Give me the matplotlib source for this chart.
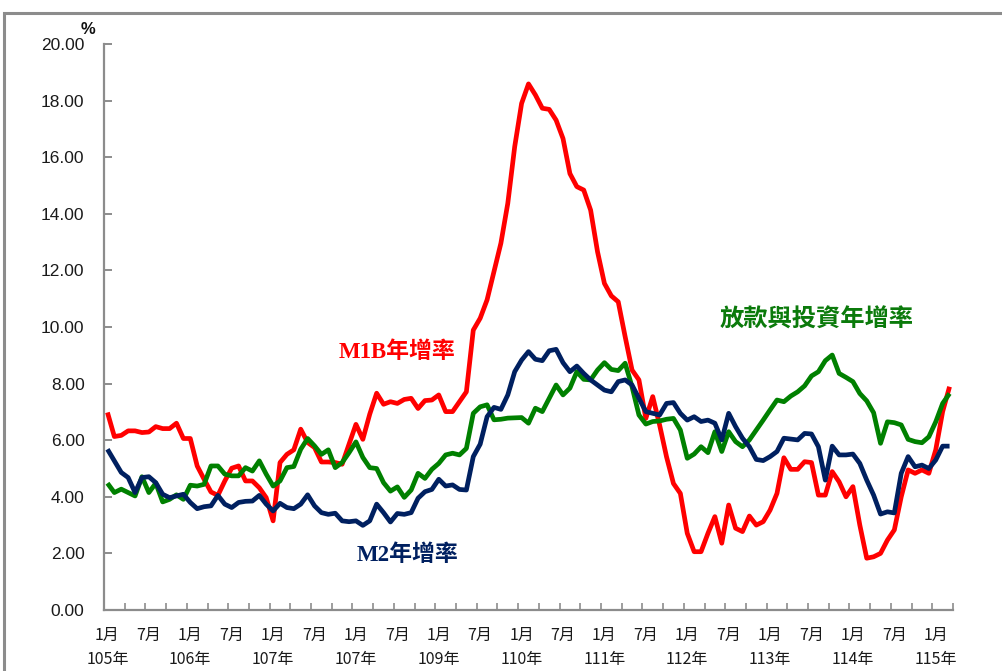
import matplotlib
matplotlib.use("Agg")
import matplotlib.pyplot as plt
from matplotlib.patches import Rectangle
import numpy as np

# ---- data (monthly, 105年1月 .. 115年3月) ----
m1b = [6.98, 6.13, 6.17, 6.33, 6.33, 6.27, 6.29, 6.48, 6.41, 6.41, 6.60, 6.06,
       6.06, 5.09, 4.62, 4.17, 4.05, 4.56, 5.01, 5.09, 4.56, 4.56, 4.32, 3.97,
       3.15, 5.21, 5.50, 5.66, 6.39, 5.92, 5.74, 5.23, 5.23, 5.21, 5.15, 5.86,
       6.56, 6.03, 6.92, 7.66, 7.27, 7.36, 7.30, 7.44, 7.48, 7.12, 7.40, 7.42,
       7.60, 7.01, 7.01, 7.36, 7.71, 9.89, 10.31, 10.96, 11.96, 12.96, 14.37, 16.37,
       17.90, 18.59, 18.20, 17.73, 17.69, 17.31, 16.66, 15.42, 14.96, 14.84, 14.13, 12.66,
       11.54, 11.10, 10.89, 9.66, 8.48, 8.13, 6.77, 7.54, 6.53, 5.41, 4.47, 4.12,
       2.71, 2.06, 2.06, 2.71, 3.30, 2.36, 3.71, 2.89, 2.77, 3.32, 3.00, 3.12,
       3.53, 4.12, 5.38, 4.97, 4.97, 5.24, 5.21, 4.06, 4.06, 4.89, 4.53, 4.00,
       4.36, 3.00, 1.83, 1.88, 2.00, 2.47, 2.83, 4.00, 4.95, 4.83, 4.95, 4.83,
       5.66, 7.01, 7.89]

m2 = [5.68, 5.27, 4.86, 4.68, 4.15, 4.68, 4.71, 4.50, 4.09, 3.97, 4.03, 4.09,
      3.80, 3.58, 3.65, 3.68, 4.05, 3.74, 3.62, 3.80, 3.84, 3.85, 4.05, 3.74,
      3.50, 3.77, 3.62, 3.58, 3.74, 4.07, 3.68, 3.44, 3.38, 3.42, 3.15, 3.12,
      3.15, 2.99, 3.15, 3.74, 3.44, 3.11, 3.41, 3.38, 3.44, 3.95, 4.18, 4.26,
      4.62, 4.38, 4.42, 4.26, 4.24, 5.42, 5.86, 6.83, 7.16, 7.09, 7.60, 8.42,
      8.83, 9.13, 8.86, 8.81, 9.16, 9.21, 8.74, 8.42, 8.62, 8.36, 8.13, 7.95,
      7.77, 7.71, 8.07, 8.13, 7.95, 7.48, 7.01, 6.95, 6.89, 7.30, 7.33, 6.95,
      6.71, 6.83, 6.66, 6.71, 6.60, 6.01, 6.95, 6.48, 6.07, 5.77, 5.32, 5.28,
      5.42, 5.60, 6.07, 6.04, 6.01, 6.24, 6.22, 5.77, 4.59, 5.79, 5.48, 5.48,
      5.51, 5.18, 4.59, 4.06, 3.39, 3.47, 3.43, 4.83, 5.42, 5.06, 5.12, 5.00,
      5.30, 5.79, 5.79]

loans = [4.48, 4.15, 4.27, 4.15, 4.03, 4.71, 4.15, 4.48, 3.82, 3.91, 4.07, 3.91,
         4.41, 4.38, 4.44, 5.09, 5.09, 4.80, 4.74, 4.74, 5.03, 4.91, 5.27, 4.80,
         4.38, 4.56, 5.03, 5.07, 5.68, 6.06, 5.80, 5.50, 5.66, 5.03, 5.21, 5.56,
         5.94, 5.39, 5.03, 5.00, 4.50, 4.20, 4.35, 3.98, 4.24, 4.83, 4.65, 4.97,
         5.18, 5.48, 5.54, 5.48, 5.71, 6.95, 7.18, 7.25, 6.72, 6.74, 6.78, 6.79,
         6.80, 6.60, 7.13, 7.01, 7.48, 7.95, 7.60, 7.84, 8.42, 8.15, 8.13, 8.48,
         8.74, 8.50, 8.46, 8.72, 7.89, 6.89, 6.57, 6.66, 6.68, 6.74, 6.77, 6.36,
         5.36, 5.51, 5.77, 5.56, 6.30, 5.60, 6.30, 5.95, 5.77, 6.01, 6.36, 6.71,
         7.07, 7.42, 7.36, 7.56, 7.71, 7.92, 8.27, 8.42, 8.81, 9.01, 8.36, 8.22,
         8.07, 7.65, 7.39, 6.97, 5.89, 6.65, 6.62, 6.54, 6.03, 5.95, 5.91, 6.12,
         6.65, 7.30, 7.65]

year_labels = ["105年", "106年", "107年", "107年", "109年", "110年",
               "111年", "112年", "113年", "114年", "115年"]
yticks = [0, 2, 4, 6, 8, 10, 12, 14, 16, 18, 20]

# ---- figure ----
fig = plt.figure(figsize=(10.03, 6.71), dpi=100)
fig.patch.set_facecolor("white")
ax = fig.add_axes([104/1003, 1-610/671, (953-104)/1003, (610-44)/671])

n = len(m1b)
x = np.arange(n)
lw = 3.4
ax.plot(x, m1b, color="#FF0000", lw=lw, solid_joinstyle="round", solid_capstyle="butt")
ax.plot(x, loans, color="#008000", lw=lw, solid_joinstyle="round", solid_capstyle="butt")
ax.plot(x, m2, color="#002060", lw=lw, solid_joinstyle="round", solid_capstyle="butt")

ax.set_xlim(-0.5, n - 0.5)
ax.set_ylim(0, 20)

for s in ["top", "right"]:
    ax.spines[s].set_visible(False)
for s in ["left", "bottom"]:
    ax.spines[s].set_color("#8c8c8c")
    ax.spines[s].set_linewidth(1.6)

ax.set_yticks(yticks)
ax.set_yticklabels([f"{v:.2f}" for v in yticks], family="Liberation Sans", fontsize=12.5,
                   color="#1a1a1a")
ax.tick_params(axis="y", direction="in", length=6, width=1.4, color="#8c8c8c", pad=14)

# minor ticks at every 3 months boundaries, labels at Jan/Jul centres
ax.set_xticks(np.arange(-0.5, n, 3), minor=True)
ax.tick_params(axis="x", which="minor", direction="in", length=5, width=1.2, color="#8c8c8c")
major_pos = np.arange(0, n, 6)
labels = []
for k, p in enumerate(major_pos):
    if k % 2 == 0:
        labels.append("1月\n" + year_labels[k // 2])
    else:
        labels.append("7月")
ax.set_xticks(major_pos)
ax.set_xticklabels(labels, family=["Noto Sans CJK TC", "DejaVu Sans"], fontsize=11.5,
                   color="#1a1a1a", linespacing=1.55, va="top")
ax.tick_params(axis="x", which="major", length=0, pad=12)

# series labels
lab_font = ["Liberation Serif", "Noto Sans CJK TC"]
ax.text(41.9, 9.12, "M1B年增率", color="#FF0000", fontsize=16.5, fontweight="bold",
        family=lab_font, ha="center", va="center")
ax.text(43.5, 1.94, "M2年增率", color="#002060", fontsize=16.5, fontweight="bold",
        family=lab_font, ha="center", va="center")
ax.text(102.8, 10.25, "放款與投資年增率", color="#0b7a0b", fontsize=17.5, fontweight="bold",
        family=lab_font, ha="center", va="center")

fig.text(88/1003, 1-30/671, "%", fontsize=12, fontweight="bold", family="Liberation Sans",
         ha="center", va="center", color="#111111")

# outer chart frame
fig.patches.append(Rectangle((4/1003, -0.05), 1.2, 1-13/671+0.05, transform=fig.transFigure,
                             fill=False, edgecolor="#8c8c8c", lw=2.2))

fig.savefig("out.png", dpi=100, facecolor="white")
